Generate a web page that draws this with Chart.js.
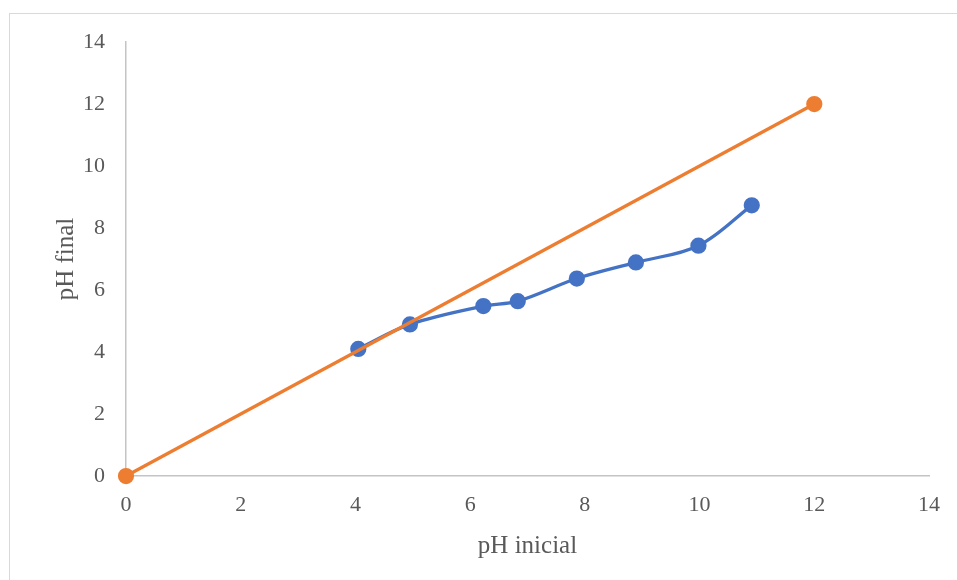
<!DOCTYPE html>
<html>
<head>
<meta charset="utf-8">
<script src="https://cdn.jsdelivr.net/npm/chart.js@4/dist/chart.umd.min.js"></script>
<style>
  html, body { margin: 0; padding: 0; background: #fff; overflow: hidden; }
  #wrap { position: relative; width: 957px; height: 580px; }
  #frame { position: absolute; left: 9px; top: 13px; width: 1000px; height: 1000px;
           border: 1px solid #d9d9d9; box-sizing: border-box; }
  #chart { position: absolute; left: 0; top: 0; }
</style>
</head>
<body>
<div id="wrap">
  <div id="frame"></div>
  <canvas id="chart" width="957" height="580"></canvas>
</div>
<script>
// Measured series: initial vs final pH
const phInicial = [4.05, 4.95, 6.23, 6.83, 7.86, 8.89, 9.98, 10.91];
const phFinal   = [4.10, 4.89, 5.48, 5.64, 6.37, 6.89, 7.43, 8.73];

// Reference line (pH final = pH inicial)
const refInicial = [0, 12];
const refFinal   = [0, 12];

// Axis range and tick step
const axisMin = 0;
const axisMax = 14;
const axisStep = 2;

const toPoints = (xs, ys) => xs.map((x, i) => ({ x: x, y: ys[i] }));

const tickFont = { family: "'Liberation Serif', 'Times New Roman', serif", size: 22 };
const titleFont = { family: "'Liberation Serif', 'Times New Roman', serif", size: 25 };
const textColor = '#595959';
const axisColor = '#c4c4c4';

new Chart(document.getElementById('chart'), {
  type: 'scatter',
  data: {
    datasets: [
      {
        data: toPoints(phInicial, phFinal),
        showLine: true,
        borderColor: '#4472C4',
        backgroundColor: '#4472C4',
        borderWidth: 3.25,
        pointRadius: 6.5,
        pointHoverRadius: 6.5,
        tension: 0.35,
        clip: false,
        order: 2
      },
      {
        data: toPoints(refInicial, refFinal),
        showLine: true,
        borderColor: '#ED7D31',
        backgroundColor: '#ED7D31',
        borderWidth: 3.25,
        pointRadius: 6.5,
        pointHoverRadius: 6.5,
        tension: 0,
        clip: false,
        order: 1
      }
    ]
  },
  options: {
    responsive: false,
    animation: false,
    events: [],
    layout: { padding: { left: 0, right: 28, top: 42, bottom: 0 } },
    plugins: {
      legend: { display: false },
      tooltip: { enabled: false }
    },
    scales: {
      x: {
        type: 'linear',
        min: axisMin,
        max: axisMax,
        afterFit: (s) => { s.height = 104; },
        grid: { display: false, drawTicks: false },
        border: { display: true, color: axisColor, width: 1.5 },
        ticks: { stepSize: axisStep, color: textColor, font: tickFont, padding: 16, maxRotation: 0 },
        title: { display: true, text: 'pH inicial', color: textColor, font: titleFont,
                 padding: { top: 0, bottom: 19 } }
      },
      y: {
        type: 'linear',
        min: axisMin,
        max: axisMax,
        afterFit: (s) => { s.width = 126; },
        grid: { display: false, drawTicks: false },
        border: { display: true, color: axisColor, width: 1.5 },
        ticks: { stepSize: axisStep, color: textColor, font: tickFont, padding: 21 },
        title: { display: true, text: 'pH final', color: textColor, font: titleFont,
                 padding: { top: 51, bottom: 0 } }
      }
    }
  }
});
</script>
</body>
</html>
